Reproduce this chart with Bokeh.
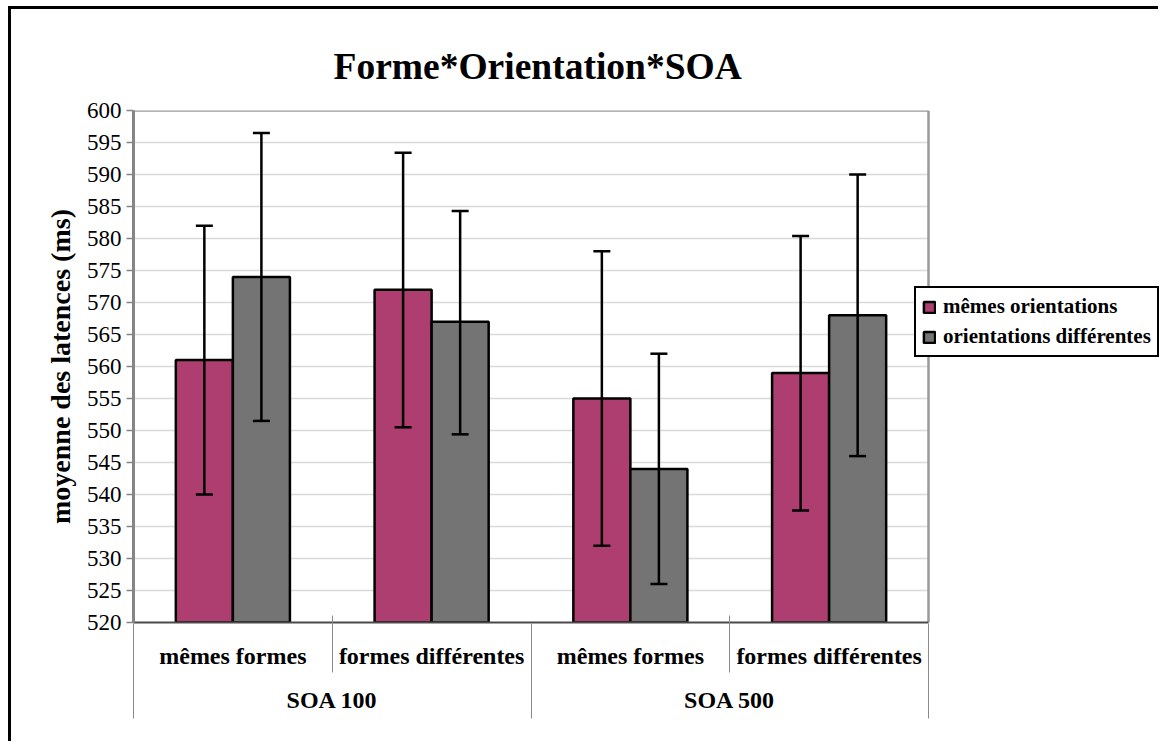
from bokeh.plotting import figure
from bokeh.models import (Range1d, LinearAxis, FixedTicker, SingleIntervalTicker,
                          ColumnDataSource, Whisker, TeeHead, Legend, LegendItem)
from bokeh.transform import dodge
from bokeh.embed import file_html
from bokeh.resources import INLINE

# ---- data ----
soas = ["SOA 100", "SOA 500"]
formes = ["mêmes formes", "formes différentes"]
series = ["mêmes orientations", "orientations différentes"]

memes_orient = [561, 572, 555, 559]
memes_orient_lo = [540, 550.5, 532, 537.5]
memes_orient_hi = [582, 593.4, 578, 580.4]

diff_orient = [574, 567, 544, 568]
diff_orient_lo = [551.5, 549.4, 526, 546]
diff_orient_hi = [596.5, 584.3, 562, 590]

y_ticks = list(range(520, 601, 5))
colors = ["#AE3E6F", "#747474"]

# ---- layout constants (pixels) ----
W, H = 1150, 735
LEFT, TOP, BOTTOM = 122, 101, 122
PLOT_W = 795          # width of the bordered plot area
SERIF = "Liberation Serif"

factors = [(s, f) for s in soas for f in formes]
n = len(factors)
nf = len(formes)
centers = [i + 0.5 for i in range(n)]
x_end = n * (W - LEFT) / PLOT_W   # frame extends under the legend

p = figure(width=W, height=H,
           x_range=Range1d(0, x_end),
           y_range=Range1d(y_ticks[0], y_ticks[-1]),
           x_axis_location=None,
           output_backend="svg", toolbar_location=None,
           min_border_left=LEFT, min_border_right=0,
           min_border_top=TOP, min_border_bottom=BOTTOM)
p.styles = {"margin-left": "8px", "margin-top": "6px",
            "border-left": "3px solid black", "border-top": "3px solid black"}
p.background_fill_color = "white"
p.border_fill_color = "white"
p.outline_line_color = None

p.title.text = "Forme*Orientation*SOA"
p.title.text_font = SERIF
p.title.text_font_size = "37.5px"
p.title.text_font_style = "bold"
p.title.text_color = "black"
p.title.align = "left"
p.title.offset = 200
p.title.standoff = 48

# grid lines and plot-area border (top and right), limited to the plot area
p.segment(x0=0, x1=n, y0=y_ticks[1:-1], y1=y_ticks[1:-1],
          line_color="#dadada", line_width=1.5)
p.segment(x0=[0, n], x1=[n, n], y0=[y_ticks[-1], y_ticks[0]], y1=[y_ticks[-1], y_ticks[-1]],
          line_color="#9a9a9a", line_width=2.5)

source = ColumnDataSource(dict(x=centers,
                               a=memes_orient, a_lo=memes_orient_lo, a_hi=memes_orient_hi,
                               b=diff_orient, b_lo=diff_orient_lo, b_hi=diff_orient_hi))

bw = 0.287
off = bw / 2
r1 = p.vbar(x=dodge("x", -off), top="a", bottom=y_ticks[0], width=bw,
            source=source, fill_color=colors[0], line_color="black", line_width=2.5)
r2 = p.vbar(x=dodge("x", off), top="b", bottom=y_ticks[0], width=bw,
            source=source, fill_color=colors[1], line_color="black", line_width=2.5)

for d, lo, hi in ((-off, "a_lo", "a_hi"), (off, "b_lo", "b_hi")):
    w = Whisker(source=source, base=dodge("x", d), lower=lo, upper=hi,
                dimension="height", line_color="black", line_width=2.5,
                level="annotation",
                upper_head=TeeHead(size=17, line_width=2.5, line_color="black"),
                lower_head=TeeHead(size=17, line_width=2.5, line_color="black"))
    p.add_layout(w)

# y axis
yax = p.yaxis[0]
yax.ticker = SingleIntervalTicker(interval=5, num_minor_ticks=0)
yax.axis_line_color = "#858585"
yax.axis_line_width = 3
yax.major_tick_line_color = "#858585"
yax.major_tick_line_width = 1.5
yax.major_tick_in = 0
yax.major_tick_out = 7
yax.minor_tick_line_color = None
yax.major_label_text_font = SERIF
yax.major_label_text_font_size = "23px"
yax.major_label_text_color = "black"
yax.major_label_standoff = 5
yax.axis_label = "moyenne des latences (ms)"
yax.axis_label_text_font = SERIF
yax.axis_label_text_font_size = "28px"
yax.axis_label_text_font_style = "bold"
yax.axis_label_text_color = "black"
yax.axis_label_standoff = 8

p.xgrid.visible = False
p.ygrid.visible = False

# x axes (categories + separators)
inner_bounds = [k * nf + j for k in range(len(soas)) for j in range(1, nf)]
outer_bounds = [k * nf for k in range(len(soas) + 1)]
group_centers = [k * nf + nf / 2 for k in range(len(soas))]

axA = LinearAxis(ticker=FixedTicker(ticks=centers, minor_ticks=inner_bounds),
                 major_label_overrides={c: f for c, (s, f) in zip(centers, factors)},
                 bounds=(0, n))
axA.axis_line_color = "#4a4a4a"
axA.axis_line_width = 2
axA.major_tick_line_color = None
axA.major_tick_in = 0
axA.major_tick_out = 0
axA.minor_tick_line_color = "#8a8a8a"
axA.minor_tick_line_width = 1
axA.minor_tick_in = 7
axA.minor_tick_out = 50
axA.major_label_text_font = SERIF
axA.major_label_text_font_size = "24px"
axA.major_label_text_font_style = "bold"
axA.major_label_text_color = "black"
axA.major_label_standoff = -30
p.add_layout(axA, "below")

axB = LinearAxis(ticker=FixedTicker(ticks=group_centers, minor_ticks=outer_bounds),
                 major_label_overrides={c: s for c, s in zip(group_centers, soas)},
                 bounds=(0, n))
axB.axis_line_color = None
axB.major_tick_line_color = None
axB.major_tick_in = 0
axB.major_tick_out = 0
axB.minor_tick_line_color = "#8a8a8a"
axB.minor_tick_line_width = 1
axB.minor_tick_in = 48
axB.minor_tick_out = 47
axB.major_label_text_font = SERIF
axB.major_label_text_font_size = "24px"
axB.major_label_text_font_style = "bold"
axB.major_label_text_color = "black"
axB.major_label_standoff = -32
p.add_layout(axB, "below")

legend = Legend(items=[LegendItem(label=series[0], renderers=[r1]),
                       LegendItem(label=series[1], renderers=[r2])],
                location=(781, 265))
legend.border_line_color = "black"
legend.border_line_alpha = 1
legend.border_line_width = 2
legend.background_fill_color = "white"
legend.background_fill_alpha = 1
legend.label_text_font = SERIF
legend.label_text_font_size = "21px"
legend.label_text_font_style = "bold"
legend.label_text_color = "black"
legend.glyph_width = 14
legend.glyph_height = 14
legend.label_standoff = 7
legend.padding = 6
legend.spacing = 5
legend.margin = 0
p.add_layout(legend)

open("out.html", "w").write(file_html(p, INLINE))
